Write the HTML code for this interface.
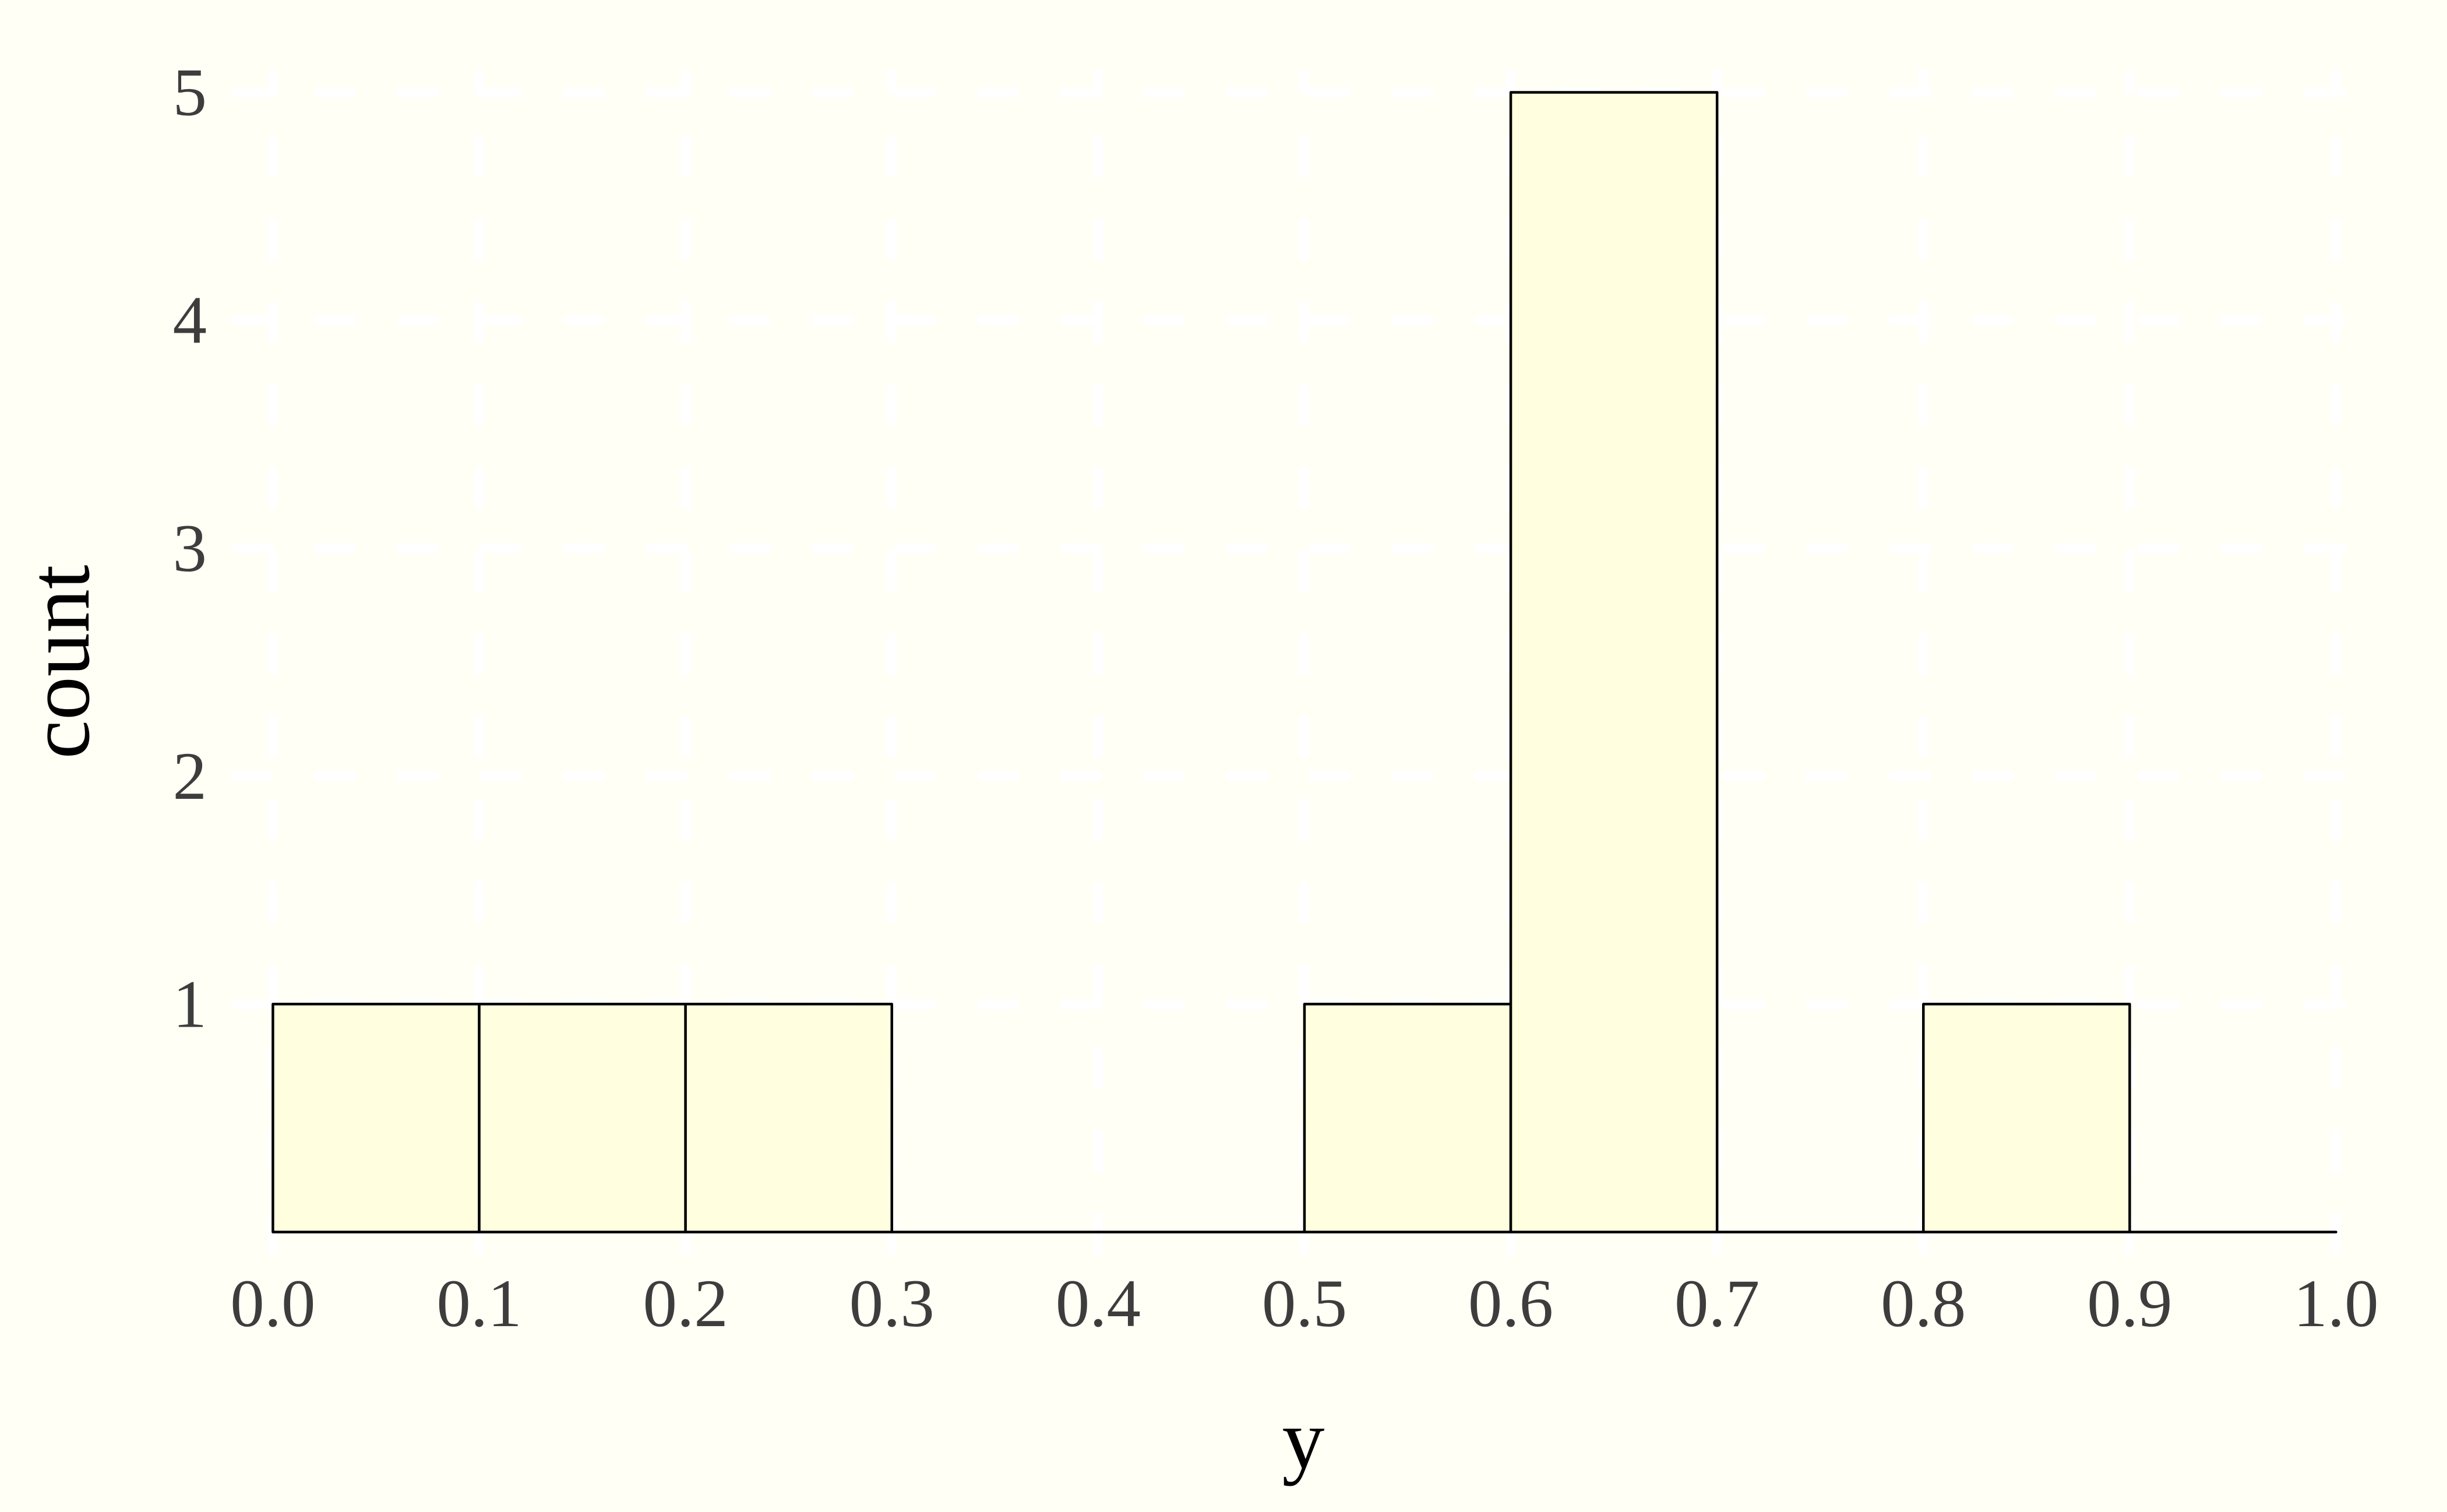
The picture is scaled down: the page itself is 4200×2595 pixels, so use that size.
<!DOCTYPE html>
<html lang="en">
<head>
<meta charset="utf-8">
<title>Histogram of y</title>
<style>
  html, body { margin: 0; padding: 0; background: #FFFFF5; }
  body { width: 4200px; height: 2595px; overflow: hidden; }
  svg { display: block; }
  text { font-family: "Liberation Serif", "DejaVu Serif", serif; }
</style>
</head>
<body>
<svg id="chart" xmlns="http://www.w3.org/2000/svg" width="4200" height="2595" viewBox="0 0 4200 2595">
  <rect x="0" y="0" width="4200" height="2595" fill="#FFFFF5"></rect>
  <g id="grid"></g>
  <g id="bars"></g>
  <g id="x-labels"></g>
  <g id="y-labels"></g>
  <text x="2237" y="2519" font-size="146" fill="#000" text-anchor="middle">y</text>
  <text transform="translate(152 1136) rotate(-90)" font-size="150" fill="#000" text-anchor="middle">count</text>
</svg>
<script>
const binStarts = [0.0, 0.1, 0.2, 0.3, 0.4, 0.5, 0.6, 0.7, 0.8, 0.9];
const binCounts = [1, 1, 1, 0, 0, 1, 5, 0, 1, 0];
const binWidth = 0.1;
const xTicks = [0.0, 0.1, 0.2, 0.3, 0.4, 0.5, 0.6, 0.7, 0.8, 0.9, 1.0];
const xTickLabels = ['0.0', '0.1', '0.2', '0.3', '0.4', '0.5', '0.6', '0.7', '0.8', '0.9', '1.0'];
const yTicks = [1, 2, 3, 4, 5];
const yTickLabels = ['1', '2', '3', '4', '5'];

const SVG_NS = 'http://www.w3.org/2000/svg';
const plotLeft = 468.4, plotRight = 4009.5, plotBottom = 2114.5, plotTop = 158.5;
const panelLeft = 397.6, panelRight = 4080.3, panelBottom = 2153.5, panelTop = 119.5;
const xMax = xTicks[xTicks.length - 1];
const yMax = Math.max(yTicks[yTicks.length - 1], ...binCounts);

function xScale(v) { return plotLeft + (v - xTicks[0]) / (xMax - xTicks[0]) * (plotRight - plotLeft); }
function yScale(v) { return plotBottom - v / yMax * (plotBottom - plotTop); }

const gridGroup = document.getElementById('grid');
const barGroup = document.getElementById('bars');
const xLabelGroup = document.getElementById('x-labels');
const yLabelGroup = document.getElementById('y-labels');

function makeGridLine(x1, y1, x2, y2) {
  const line = document.createElementNS(SVG_NS, 'line');
  line.setAttribute('x1', x1);
  line.setAttribute('y1', y1);
  line.setAttribute('x2', x2);
  line.setAttribute('y2', y2);
  line.setAttribute('stroke', '#FFFFFF');
  line.setAttribute('stroke-width', '17.3');
  line.setAttribute('stroke-dasharray', '71.1 71.15');
  return line;
}

yTicks.forEach(function (t) {
  const line = makeGridLine(panelLeft, yScale(t), panelRight, yScale(t));
  
  
  gridGroup.appendChild(line);
});

xTicks.forEach(function (t) {
  const line = makeGridLine(xScale(t), panelBottom, xScale(t), panelTop);
  
  
  gridGroup.appendChild(line);
});

binStarts.forEach(function (start, i) {
  const x0 = xScale(start);
  const x1 = xScale(start + binWidth);
  const y1 = yScale(binCounts[i]);
  const bar = document.createElementNS(SVG_NS, 'path');
  
  
  bar.setAttribute('d', 'M' + x0 + ' ' + plotBottom + 'L' + x0 + ' ' + y1 + 'L' + x1 + ' ' + y1 + 'L' + x1 + ' ' + plotBottom + 'Z');
  bar.setAttribute('fill', '#FFFFE0');
  bar.setAttribute('stroke', '#000000');
  bar.setAttribute('stroke-width', '4.5');
  bar.setAttribute('stroke-linejoin', 'round');
  bar.setAttribute('stroke-linecap', 'round');
  barGroup.appendChild(bar);
});

xTicks.forEach(function (t, i) {
  const label = document.createElementNS(SVG_NS, 'text');
  
  
  label.setAttribute('x', xScale(t));
  label.setAttribute('y', 2276);
  label.setAttribute('font-size', '117');
  label.setAttribute('fill', '#3D3D3D');
  label.setAttribute('text-anchor', 'middle');
  label.textContent = xTickLabels[i];
  xLabelGroup.appendChild(label);
});

yTicks.forEach(function (t, i) {
  const label = document.createElementNS(SVG_NS, 'text');
  
  
  label.setAttribute('x', 355);
  label.setAttribute('y', yScale(t) + 39);
  label.setAttribute('font-size', '117');
  label.setAttribute('fill', '#3D3D3D');
  label.setAttribute('text-anchor', 'end');
  label.textContent = yTickLabels[i];
  yLabelGroup.appendChild(label);
});
</script>
</body>
</html>
